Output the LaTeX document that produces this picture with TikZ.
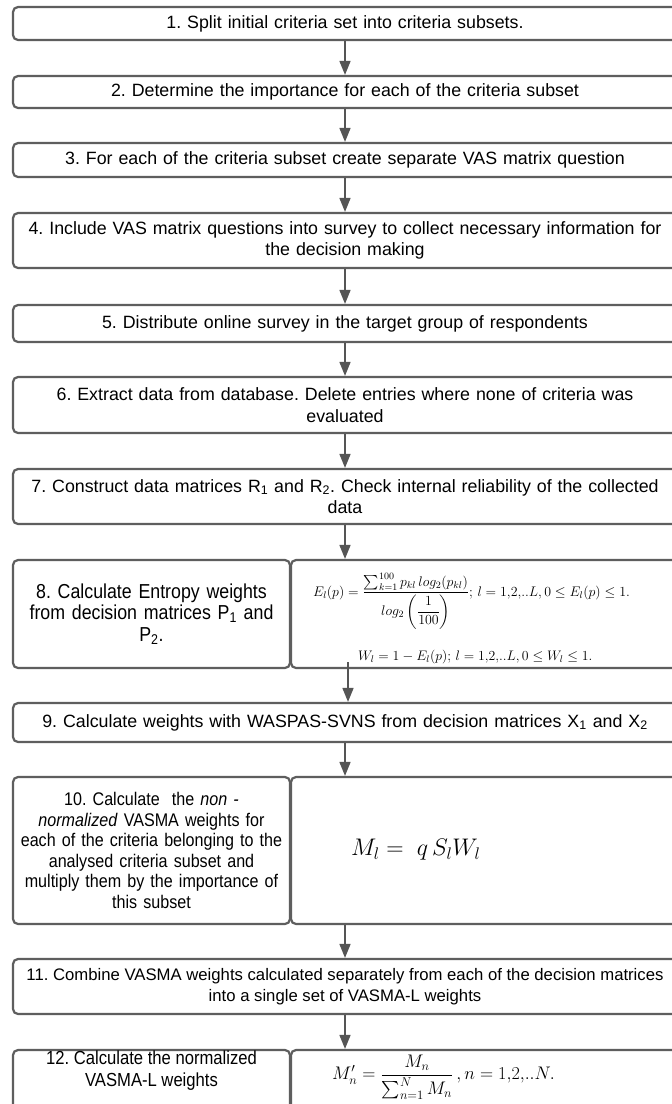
\RequirePackage{fix-cm}
\documentclass[tikz,border=0pt]{standalone}
\usepackage{amsmath}
\usepackage{fontspec}
\setmainfont{Liberation Sans}
\newfontfamily\condfont{Liberation Sans}[FakeStretch=0.88]
\usetikzlibrary{arrows.meta}
\definecolor{boxline}{HTML}{5E5E5E}
\definecolor{arrline}{HTML}{555555}
\newcommand\mainfs{\fontsize{17.8}{21.5}\selectfont}
\newcommand\elevenfs{\fontsize{16.7}{21.5}\selectfont}
\newcommand\eightfs{\condfont\fontsize{20.2}{21.5}\selectfont}
\newcommand\tenfs{\condfont\fontsize{18.3}{20.5}\selectfont}
\newcommand\twelvefs{\condfont\fontsize{18.9}{22}\selectfont}
\frenchspacing
\tikzset{
  box/.style={draw=boxline, line width=2.2pt, rounded corners=5pt, fill=white,
              inner sep=0pt, align=center, font=\mainfs},
  wide/.style={box, minimum width=664pt, text width=662pt},
  leftbox/.style={box, minimum width=277pt, text width=270pt},
  rightbox/.style={box, minimum width=386pt},
  arr/.style={draw=arrline, line width=1.6pt, -{Triangle[width=11pt,length=14pt]}},
  formula/.style={anchor=west, inner sep=0pt}
}
\begin{document}
\begin{tikzpicture}[x=1pt, y=-1pt]
\useasboundingbox (0,0) rectangle (672,1104);
\clip (0,0) rectangle (672,1104);
\fill[white] (0,0) rectangle (672,1104);

\node[wide, minimum height=33pt] (b1) at (345,23.5) {1. Split initial criteria set into criteria subsets.};
\node[wide, minimum height=32pt] (b2) at (345,92) {2. Determine the importance for each of the criteria subset};
\node[wide, minimum height=34pt] (b3) at (345,160) {3. For each of the criteria subset create separate VAS matrix question};
\node[wide, minimum height=55pt] (b4) at (345,240.5) {4. Include VAS matrix questions into survey to collect necessary information for\\ the decision making};
\node[wide, minimum height=37pt] (b5) at (345,323.5) {5. Distribute online survey in the target group of respondents};
\node[wide, minimum height=56pt] (b6) at (345,405) {6. Extract data from database. Delete entries where none of criteria was\\ evaluated};
\node[wide, minimum height=55pt] (b7) at (345,496.5) {7. Construct data matrices R\textsubscript{1} and R\textsubscript{2}. Check internal reliability of the collected\\ data};

\node[leftbox, minimum height=108pt, font=\eightfs] (b8l) at (151.5,614) {8. Calculate Entropy weights\\ from decision matrices P\textsubscript{1} and\\ P\textsubscript{2}.};
\node[rightbox, minimum height=108pt] (b8r) at (484,614) {};
\node[formula, font=\fontsize{13.9}{16}\selectfont] (f8a) at (313,601)
  {$\displaystyle E_l(p)=\frac{\textstyle\sum_{k=1}^{100} p_{kl}\,log_2(p_{kl})}{log_2\left(\dfrac{1}{100}\right)};\, l=1{,}2{,}..L, 0\le E_l(p)\le 1.$};
\node[formula, font=\fontsize{13.8}{16}\selectfont] (f8b) at (358,657)
  {$W_l=1-E_l(p);\, l=1{,}2{,}..L, 0\le W_l\le 1.$};
\coordinate (a8) at (348,662);

\node[wide, minimum height=39pt] (b9) at (345,722.5) {9. Calculate weights with WASPAS-SVNS from decision matrices X\textsubscript{1} and X\textsubscript{2}};

\node[leftbox, minimum height=147pt, font=\tenfs] (b10l) at (151.5,850.5) {10. Calculate\ \ the \textit{non -}\\ \textit{normalized} VASMA weights for\\ each of the criteria belonging to the\\ analysed criteria subset and\\ multiply them by the importance of\\ this subset};
\node[rightbox, minimum height=147pt] (b10r) at (484,850.5) {};
\node[formula, font=\fontsize{24}{28}\selectfont] (f10) at (351,850) {$M_l=\ q\,S_lW_l$};

\node[box, minimum width=664pt, minimum height=55pt, font=\elevenfs] (b11) at (345,986.5) {11. Combine VASMA weights calculated separately from each of the decision matrices\\ into a single set of VASMA-L weights};

\node[box, minimum width=277pt, minimum height=70pt] (b12l) at (151.5,1085) {};
\node[rightbox, minimum height=70pt] (b12r) at (484,1085) {};
\node[align=center, inner sep=0pt, font=\twelvefs] (t12) at (151.5,1071) {12. Calculate the normalized\\ VASMA-L weights};
\node[formula, font=\fontsize{18.2}{21}\selectfont] (f12) at (332,1077)
  {$M'_n=\dfrac{M_n}{\sum_{n=1}^{N}M_n}\,, n=1{,}2{,}..N.$};

\draw[arr] (b1.south) -- (b2.north);
\draw[arr] (b2.south) -- (b3.north);
\draw[arr] (b3.south) -- (b4.north);
\draw[arr] (b4.south) -- (b5.north);
\draw[arr] (b5.south) -- (b6.north);
\draw[arr] (b6.south) -- (b7.north);
\draw[arr] (b7.south) -- (b7.south |- b8r.north);
\draw[arr] (a8) -- (a8 |- b9.north);
\draw[arr] (b9.south) -- (b9.south |- b10r.north);
\draw[arr] (b11.north |- b10r.south) -- (b11.north);
\draw[arr] (b11.south) -- (b11.south |- b12r.north);
\end{tikzpicture}
\end{document}
